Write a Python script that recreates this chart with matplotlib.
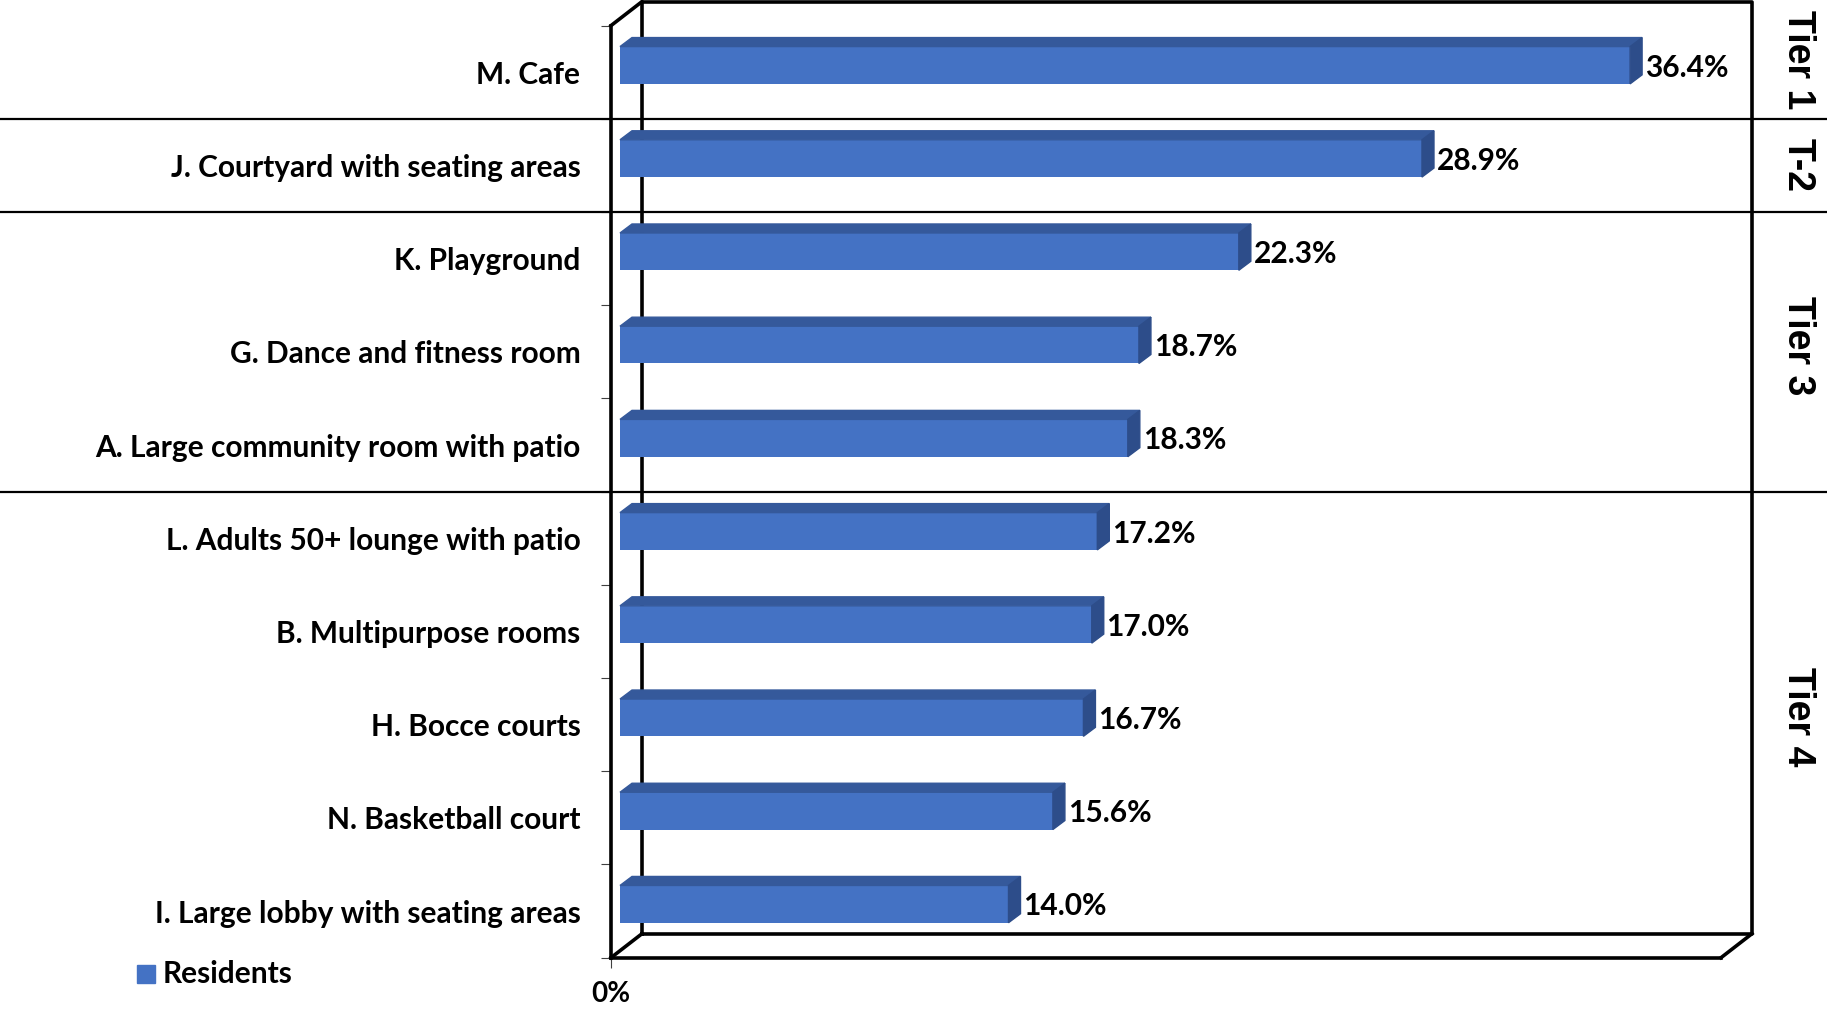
import matplotlib.pyplot as plt
from matplotlib import transforms
from matplotlib.patches import Polygon, Rectangle

# data, top row first
amenities = ['M. Cafe', 'J. Courtyard with seating areas', 'K. Playground',
             'G. Dance and fitness room', 'A. Large community room with patio',
             'L. Adults 50+ lounge with patio', 'B. Multipurpose rooms',
             'H. Bocce courts', 'N. Basketball court',
             'I. Large lobby with seating areas']
residents = [36.4, 28.9, 22.3, 18.7, 18.3, 17.2, 17.0, 16.7, 15.6, 14.0]
tier_names = ['Tier 1', 'T-2', 'Tier 3', 'Tier 4']
tier_first = [0, 1, 2, 5]
tier_last = [0, 1, 4, 9]

FRONT = '#4472C4'
TOP = '#35599B'
SIDE = '#2D4D8A'
FONT = ['Lato', 'DejaVu Sans']
FS = 21.5

W, H = 1827, 1010
fig = plt.figure(figsize=(W / 100, H / 100), dpi=100)
fig.patch.set_facecolor('white')

# axes = front plane of the fake 3d box (pixel layout of the original)
ax = fig.add_axes([611 / W, 1 - 957.7 / H, 1110 / W, (957.7 - 25.6) / H])
ax.set_xlim(0, 40)
ax.set_ylim(9.5, -0.5)
for s in ax.spines.values():
    s.set_visible(False)
ax.patch.set_alpha(0)

# depth shifts (inches at 100 dpi)
bar_shift = transforms.ScaledTranslation(0.09, 0.07, fig.dpi_scale_trans)
back_shift = transforms.ScaledTranslation(0.31, 0.24, fig.dpi_scale_trans)
bar_tr = ax.transData + bar_shift
back_tr = ax.transAxes + back_shift

# box frame
lw = 2.6
ax.plot([0, 1], [0, 0], color='black', lw=lw, transform=ax.transAxes, clip_on=False)
ax.plot([0, 0], [0, 1], color='black', lw=lw, transform=ax.transAxes, clip_on=False)
ax.plot([0, 1, 1, 0, 0], [0, 0, 1, 1, 0], color='black', lw=lw,
        transform=back_tr, clip_on=False)
fwd = ax.transAxes
for xa, ya in [(0, 1), (0, 0), (1, 0)]:
    p0 = fwd.transform((xa, ya))
    p1 = back_tr.transform((xa, ya))
    ax.plot([p0[0], p1[0]], [p0[1], p1[1]], color='black', lw=lw,
            transform=transforms.IdentityTransform(), clip_on=False)

# tier separators across the whole figure
for last in tier_last[:-1]:
    ax.axhline(last + 0.5, xmin=-611 / 1110, xmax=(W - 611) / 1110,
               color='black', lw=1.6, clip_on=False)

# bars with top and side faces
h = 0.40
dx = 12 / (1110 / 40)
dy = 9 / 93.2
for i, v in enumerate(residents):
    y0 = i - h / 2
    y1 = i + h / 2
    ax.barh(i, v, height=h, color=FRONT, transform=bar_tr, zorder=3)
    top = Polygon([(0, y0), (v, y0), (v + dx, y0 - dy), (dx, y0 - dy)],
                  closed=True, color=TOP, transform=bar_tr, zorder=3)
    side = Polygon([(v, y0), (v + dx, y0 - dy), (v + dx, y1 - dy), (v, y1)],
                   closed=True, color=SIDE, transform=bar_tr, zorder=3)
    ax.add_patch(top)
    ax.add_patch(side)
    ax.text(v + dx + 0.1, i + 0.025, f'{v:.1f}%', transform=bar_tr,
            ha='left', va='center', fontsize=FS, fontweight='bold',
            family=FONT, zorder=4)

# category ticks
ax.set_yticks(range(len(amenities)))
ax.set_yticklabels(amenities, fontsize=FS, fontweight='bold', family=FONT)
ax.tick_params(axis='y', which='major', length=0, pad=22)
ax.set_yticks([i - 0.5 for i in range(len(amenities) + 1)], minor=True)
ax.tick_params(axis='y', which='minor', length=7, width=0.8, color='#404040')
ax.set_xticks([0])
ax.set_xticklabels(['0%'], fontsize=20, fontweight='bold', family=FONT)
ax.tick_params(axis='x', length=7, width=0.8, color='#404040', pad=10)

# tier labels on the right
tier_nudge = {'Tier 1': -0.13, 'T-2': 0.0, 'Tier 3': -0.07, 'Tier 4': -0.08}
for name, a, b in zip(tier_names, tier_first, tier_last):
    yc = (a + b) / 2 + tier_nudge[name]
    ax.text(1798 / W, yc, name, transform=transforms.blended_transform_factory(
        fig.transFigure, ax.transData), rotation=270, ha='center', va='center',
        fontsize=27, fontweight='bold', family=['Liberation Sans', 'DejaVu Sans'])

# legend
fig.patches.append(Rectangle((137 / W, 1 - 983 / H), 18 / W, 18 / H,
                             color=FRONT, transform=fig.transFigure))
fig.text(163 / W, 1 - 974 / H, 'Residents', ha='left', va='center',
         fontsize=FS, fontweight='bold', family=FONT)

fig.savefig('out.png', dpi=100, facecolor='white')
